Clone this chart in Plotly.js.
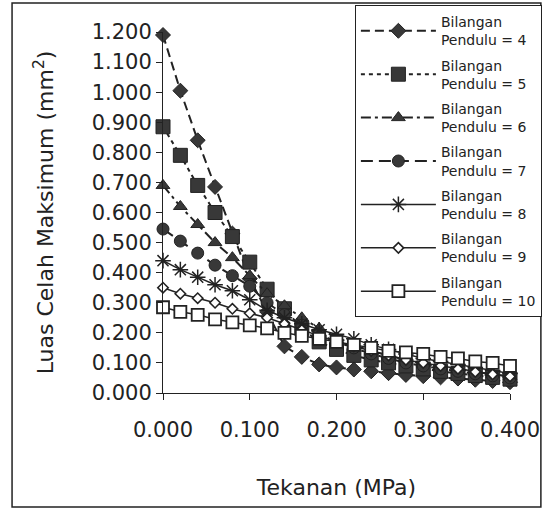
<!DOCTYPE html>
<html>
<head>
<meta charset="utf-8">
<script src="https://cdn.plot.ly/plotly-3.0.1.min.js"></script>
<style>html,body{margin:0;padding:0;background:#fff;}#chart{width:544px;height:511px;}</style>
</head>
<body>
<div id="chart"></div>
<script>
// Tekanan (MPa)
const tekanan = [0.00, 0.02, 0.04, 0.06, 0.08, 0.10, 0.12, 0.14, 0.16, 0.18, 0.20,
                 0.22, 0.24, 0.26, 0.28, 0.30, 0.32, 0.34, 0.36, 0.38, 0.40];
// Luas Celah Maksimum (mm2) per Bilangan Pendulu
const pendulu4  = [1.190, 1.005, 0.840, 0.685, 0.530, 0.380, 0.270, 0.155, 0.120, 0.095, 0.085, 0.078, 0.072, 0.066, 0.060, 0.056, 0.052, 0.048, 0.044, 0.040, 0.036];
const pendulu5  = [0.885, 0.790, 0.690, 0.600, 0.520, 0.435, 0.345, 0.280, 0.215, 0.170, 0.145, 0.125, 0.110, 0.100, 0.090, 0.080, 0.072, 0.065, 0.058, 0.052, 0.046];
const pendulu6  = [0.690, 0.620, 0.560, 0.500, 0.450, 0.390, 0.330, 0.290, 0.250, 0.215, 0.185, 0.160, 0.140, 0.125, 0.110, 0.098, 0.088, 0.078, 0.070, 0.062, 0.055];
const pendulu7  = [0.545, 0.505, 0.465, 0.425, 0.390, 0.355, 0.300, 0.260, 0.225, 0.195, 0.170, 0.150, 0.130, 0.115, 0.100, 0.090, 0.080, 0.072, 0.064, 0.057, 0.050];
const pendulu8  = [0.440, 0.410, 0.385, 0.360, 0.340, 0.310, 0.275, 0.250, 0.230, 0.210, 0.195, 0.180, 0.160, 0.145, 0.130, 0.115, 0.105, 0.095, 0.085, 0.075, 0.065];
const pendulu9  = [0.350, 0.330, 0.315, 0.300, 0.280, 0.265, 0.250, 0.230, 0.210, 0.190, 0.170, 0.155, 0.140, 0.125, 0.110, 0.100, 0.090, 0.080, 0.070, 0.062, 0.055];
const pendulu10 = [0.285, 0.270, 0.260, 0.245, 0.235, 0.225, 0.215, 0.200, 0.190, 0.180, 0.170, 0.160, 0.150, 0.140, 0.135, 0.130, 0.120, 0.115, 0.105, 0.100, 0.090];
const seriesNames = ['Bilangan<br>Pendulu = 4', 'Bilangan<br>Pendulu = 5', 'Bilangan<br>Pendulu = 6',
                     'Bilangan<br>Pendulu = 7', 'Bilangan<br>Pendulu = 8', 'Bilangan<br>Pendulu = 9',
                     'Bilangan<br>Pendulu = 10'];
const yTitle = 'Luas Celah Maksimum (mm<sup>2</sup>)';
const xTitle = 'Tekanan (MPa)';

const seriesValues = [pendulu4, pendulu5, pendulu6, pendulu7, pendulu8, pendulu9, pendulu10];
const styles = [
  {dash: '9px,5px', w: 2, sym: 'diamond', size: 11.5, fill: '#383838', lw: 1},
  {dash: '4px,4px', w: 2, sym: 'square', size: 14, fill: '#383838', lw: 1},
  {dash: '10px,4px,3px,4px', w: 2, sym: 'triangle-up', size: 12, fill: '#383838', lw: 1},
  {dash: '12px,6px', w: 2, sym: 'circle', size: 12, fill: '#383838', lw: 1},
  {dash: 'solid', w: 1.5, sym: 'asterisk-open', size: 13, fill: '#222', lw: 1.5},
  {dash: 'solid', w: 1.5, sym: 'diamond', size: 8, fill: '#fff', lw: 1.6},
  {dash: 'solid', w: 1.5, sym: 'square', size: 12, fill: '#fff', lw: 1.8}
];
const traces = seriesValues.map((vals, i) => ({
  type: 'scatter', mode: 'lines+markers',
  x: tekanan, y: vals, name: seriesNames[i], legendgroup: 'g' + i,
  line: {color: '#222', width: styles[i].w, dash: styles[i].dash},
  marker: {symbol: styles[i].sym, size: styles[i].size, color: styles[i].fill,
           line: {color: '#222', width: styles[i].lw}},
  cliponaxis: false
}));

const F = 'DejaVu Sans, Arial, sans-serif';
const layout = {
  width: 544, height: 511,
  margin: {l: 163, r: 34, t: 32, b: 118, autoexpand: false},
  paper_bgcolor: '#fff', plot_bgcolor: '#fff',
  font: {family: F, color: '#222'},
  showlegend: true,
  legend: {x: 0.553, xref: 'paper', y: 0.990, yref: 'container', xanchor: 'left', yanchor: 'top',
           bordercolor: '#222', borderwidth: 1, bgcolor: '#fff',
           font: {family: F, size: 14, color: '#222'},
           itemwidth: 75, tracegroupgap: 4, traceorder: 'grouped', maxheight: 1},
  xaxis: {range: [0, 0.4], dtick: 0.1, tick0: 0, tickformat: '.3f',
          showgrid: false, zeroline: false, showline: true, linecolor: '#222', linewidth: 1,
          ticks: 'outside', ticklen: 6, tickcolor: '#222', ticklabelstandoff: 12,
          tickfont: {family: F, size: 21, color: '#222'},
          title: {text: xTitle, font: {family: F, size: 22, color: '#222'}, standoff: 38}},
  yaxis: {range: [0, 1.2], dtick: 0.1, tick0: 0, tickformat: '.3f',
          showgrid: false, zeroline: false, showline: true, linecolor: '#222', linewidth: 1,
          ticks: 'outside', ticklen: 6, tickcolor: '#222',
          tickfont: {family: F, size: 21, color: '#222'},
          title: {text: yTitle, font: {family: F, size: 22, color: '#222'}, standoff: 31}},
  shapes: [{type: 'rect', xref: 'paper', yref: 'paper',
            x0: -0.435, x1: 1.089, y0: -0.316, y1: 1.080,
            line: {color: '#222', width: 1.5}, fillcolor: 'rgba(0,0,0,0)', layer: 'below'}]
};
Plotly.newPlot('chart', traces, layout, {displayModeBar: false, staticPlot: true});
</script>
</body>
</html>
